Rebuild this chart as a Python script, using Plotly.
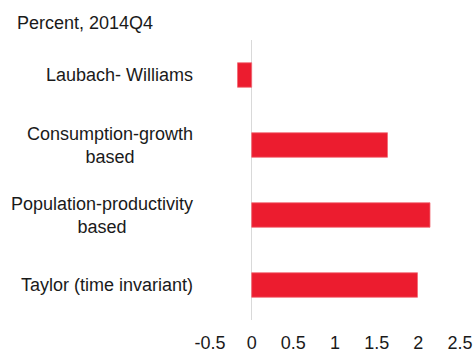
import plotly.graph_objects as go

categories = ["Laubach- Williams", "Consumption-growth based",
              "Population-productivity based", "Taylor (time invariant)"]
label_text = ["Laubach- Williams", "Consumption-growth<br>based",
              "Population-productivity<br>based", "Taylor (time invariant)"]
values = [-0.17, 1.63, 2.14, 1.99]
tick_vals = [-0.5, 0, 0.5, 1, 1.5, 2, 2.5]
tick_text = ["-0.5", "0", "0.5", "1", "1.5", "2", "2.5"]
subtitle = "Percent, 2014Q4"

FONT = "Liberation Sans, Arial, sans-serif"
RED = "#EC1C2F"

fig = go.Figure()
fig.add_trace(go.Bar(
    x=values, y=categories, orientation="h",
    marker=dict(color=RED, line=dict(color="#F26A75", width=0.8)),
    hoverinfo="skip",
))

annotations = []
for cat, txt in zip(categories, label_text):
    annotations.append(dict(
        x=0, xref="paper", y=cat, yref="y", text=txt, showarrow=False,
        xanchor="right", yanchor="middle", align="center", xshift=-15,
        font=dict(family=FONT, size=18, color="#1a1a1a"),
    ))
annotations.append(dict(
    x=-0.78, xref="paper", y=1.0607, yref="paper", text=subtitle,
    showarrow=False, xanchor="left", yanchor="middle",
    font=dict(family=FONT, size=18, color="#1a1a1a"),
))

fig.update_layout(
    width=473, height=352,
    margin=dict(l=210, r=13, t=40, b=32),
    paper_bgcolor="white", plot_bgcolor="white",
    showlegend=False, bargap=0.65,
    font=dict(family=FONT, size=18, color="#1a1a1a"),
    xaxis=dict(range=[-0.5, 2.5], tickvals=tick_vals, ticktext=tick_text,
               showgrid=False, zeroline=True, zerolinecolor="#D9D9D9",
               zerolinewidth=1, showline=False, ticks="",
               ticklabelstandoff=10, automargin=False,
               ticklabeloverflow="allow",
               tickfont=dict(family=FONT, size=18, color="#1a1a1a")),
    yaxis=dict(categoryorder="array", categoryarray=categories,
               autorange="reversed", showticklabels=False, showgrid=False,
               zeroline=False, showline=False, ticks="", automargin=False),
    annotations=annotations,
)

fig.write_html("out.html", config={"displayModeBar": False},
               post_script="document.body.style.margin='0';document.body.style.overflow='hidden';")
